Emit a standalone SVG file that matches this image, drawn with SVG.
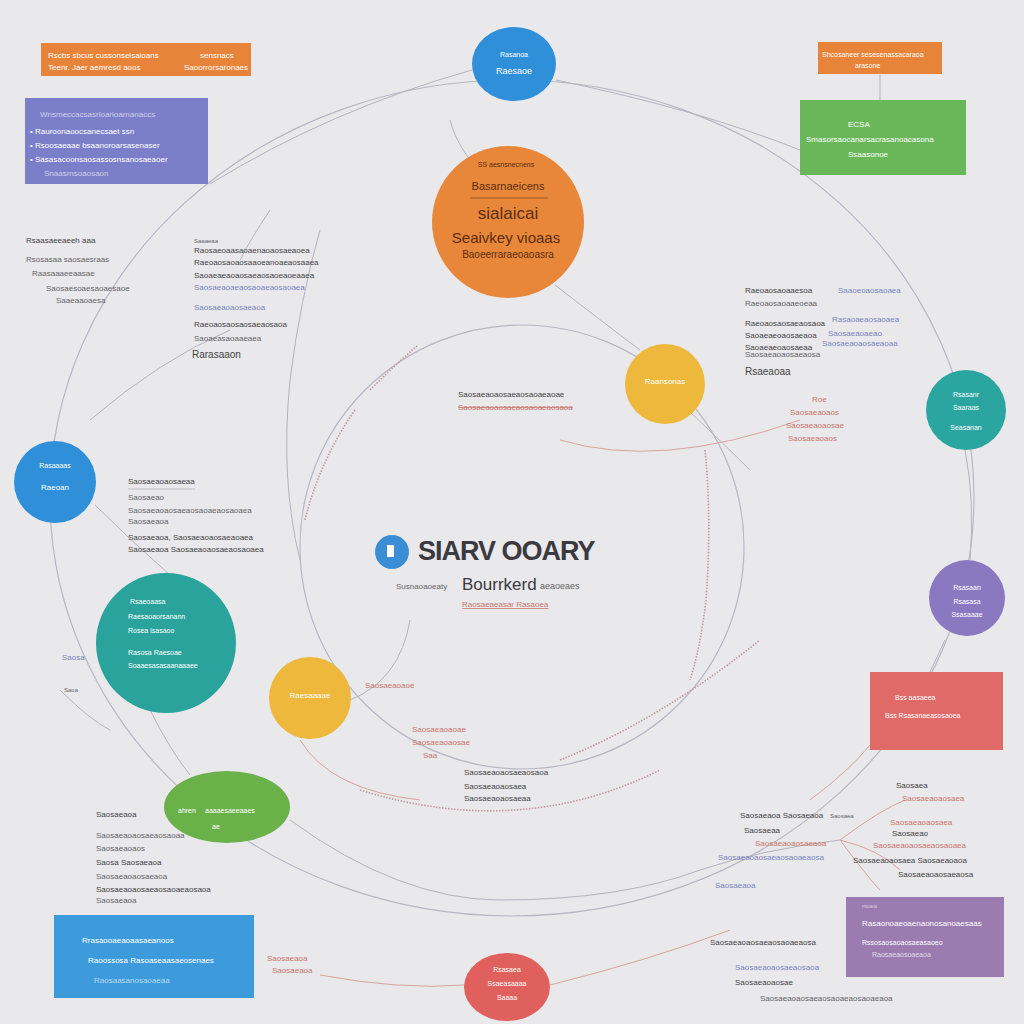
<svg xmlns="http://www.w3.org/2000/svg" width="1024" height="1024" viewBox="0 0 1024 1024">
<style>
text{font-family:"Liberation Sans",Arial,sans-serif;font-size:8px}
.t{fill:#666}
.td{fill:#444}
.tr{fill:#c9766c}
.tb{fill:#7a86c0}
.w{fill:#fff}
.wd{fill:#5a2e10}
.ring{fill:none;stroke:#b8b6c2;stroke-width:1.2}
.c{fill:none;stroke:#b5b3bd;stroke-width:1}
.cr{fill:none;stroke:#d9a49b;stroke-width:1}
.cd{fill:none;stroke:#c29a9a;stroke-width:1.6;stroke-dasharray:1.5 1.5}
</style>
<rect width="1024" height="1024" fill="#e9e8eb"/>
<g id="connectors">
<ellipse class="ring" cx="512" cy="498" rx="462" ry="418"/>
<circle class="ring" cx="522" cy="547" r="222"/>
<path class="c" d="M210 184 Q330 110 472 70"/>
<path class="c" d="M556 80 Q700 110 800 150"/>
<path class="c" d="M880 75 L880 100"/>
<path class="c" d="M555 285 Q600 320 640 350"/>
<path class="c" d="M690 412 Q730 450 750 470"/>
<path class="cr" d="M560 440 Q660 470 800 420"/>
<path class="c" d="M450 120 Q455 140 470 160"/>
<path class="c" d="M320 230 Q300 300 290 380 Q280 480 300 560"/>
<path class="c" d="M90 420 Q160 360 230 330"/>
<path class="c" d="M270 210 Q250 240 240 260"/>
<path class="c" d="M95 505 Q130 540 170 575"/>
<path class="c" d="M150 710 Q170 750 190 775"/>
<path class="c" d="M350 700 Q400 680 410 620"/>
<path class="cr" d="M300 740 Q330 790 420 800"/>
<path class="c" d="M290 820 Q400 900 500 900 Q620 900 700 870"/>
<path class="cr" d="M320 975 Q400 990 465 985"/>
<path class="cr" d="M550 985 Q650 960 730 930"/>
<path class="cr" d="M810 800 Q850 770 870 745"/>
<path class="cr" d="M840 840 Q880 810 905 800"/>
<path class="cr" d="M840 840 Q880 850 900 870"/>
<path class="cr" d="M840 840 Q870 880 880 890"/>
<path class="c" d="M700 870 Q760 850 840 840"/>
<path class="cd" d="M360 790 Q520 840 660 770"/>
<path class="cd" d="M560 760 Q660 720 760 640"/>
<path class="cd" d="M705 450 Q712 520 706 600 Q700 650 690 680"/>
<path class="cd" d="M370 390 Q395 365 418 345"/>
<path class="cd" d="M355 410 Q320 460 305 520"/>
<path class="c" d="M945 640 L930 672"/>
<path class="c" d="M965 450 Q975 500 970 560"/>
<path class="c" d="M60 690 Q90 720 110 730"/>
</g>
<g id="n-orange-tl">
<rect x="41" y="43" width="210" height="33" fill="#e8843a"/>
<text class="w" x="48" y="58">Rscbs sbcus cussonselsaioans</text>
<text class="w" x="48" y="70">Teenr. Jaer aemresd aoos</text>
<text class="w" x="200" y="58">sensnacs</text>
<text class="w" x="184" y="70">Saoorrorsaronaes</text>
</g>
<g id="n-purple-tl">
<rect x="25" y="98" width="183" height="86" fill="#7b7fc9"/>
<text class="w" x="40" y="117" opacity="0.6">Wnsmeccacsasrioarioarnanaccs</text>
<text class="w" x="30" y="134">•  Rauroonaoocsanecsaet ssn</text>
<text class="w" x="30" y="148">•  Rsoosaeaae bsaanoroarsasenaser</text>
<text class="w" x="30" y="162">•  Sasasacoonsaosassosnsanosaeaoer</text>
<text class="w" x="44" y="176" opacity="0.6">Snaasrnsoaosaon</text>
</g>
<g id="n-blue-top">
<ellipse cx="514" cy="64" rx="42" ry="37" fill="#2f8fd8"/>
<text class="w" x="514" y="57" text-anchor="middle" style="font-size:7px">Rasanoa</text>
<text class="w" x="514" y="74" text-anchor="middle" style="font-size:9px">Raesaoe</text>
</g>
<g id="n-orange-tr">
<rect x="818" y="42" width="124" height="32" fill="#e8843a"/>
<text class="w" x="822" y="57" style="font-size:7px">Shcosaneer sesesenassacaraoa</text>
<text class="w" x="855" y="68" style="font-size:7px">arasone</text>
</g>
<g id="n-green-tr">
<rect x="800" y="100" width="166" height="75" fill="#6ab75a"/>
<text class="w" x="848" y="127">ECSA</text>
<text class="w" x="806" y="142">Smasorsaocanarsacrasanoacasona</text>
<text class="w" x="848" y="157">Ssaasonoe</text>
</g>
<g id="n-orange-big">
<circle cx="508" cy="222" r="76" fill="#e8873a"/>
<text class="wd" x="506" y="167" text-anchor="middle" style="font-size:7px">SS aesnsnecnens</text>
<text class="wd" x="508" y="190" text-anchor="middle" style="font-size:11px">Basarnaeicens</text>
<line x1="470" y1="198" x2="548" y2="198" stroke="#8a4b1e" stroke-width="0.8"/>
<text class="wd" x="508" y="219" text-anchor="middle" style="font-size:17px">sialaicai</text>
<text class="wd" x="506" y="243" text-anchor="middle" style="font-size:15px">Seaivkey vioaas</text>
<text class="wd" x="508" y="258" text-anchor="middle" style="font-size:10px">Baoeerraraeoaoasra</text>
</g>
<g id="n-yellow-r">
<circle cx="665" cy="384" r="40" fill="#eeb83c"/>
<text class="w" x="665" y="384" text-anchor="middle">Raansonas</text>
</g>
<g id="n-teal-r">
<circle cx="966" cy="410" r="40" fill="#2aa5a0"/>
<text class="w" x="966" y="397" text-anchor="middle" style="font-size:7px">Rsasanr</text>
<text class="w" x="966" y="410" text-anchor="middle" style="font-size:7px">Saaraas</text>
<text class="w" x="966" y="430" text-anchor="middle" style="font-size:7px">Seasanan</text>
</g>
<g id="n-blue-l">
<circle cx="55" cy="482" r="41" fill="#2f8fd8"/>
<text class="w" x="55" y="468" text-anchor="middle" style="font-size:7px">Rasaaaas</text>
<text class="w" x="55" y="490" text-anchor="middle">Raeoan</text>
</g>
<g id="n-purple-r">
<circle cx="967" cy="598" r="38" fill="#8a78c0"/>
<text class="w" x="967" y="590" text-anchor="middle" style="font-size:7px">Rsasaan</text>
<text class="w" x="967" y="604" text-anchor="middle" style="font-size:7px">Rsasasa</text>
<text class="w" x="967" y="617" text-anchor="middle" style="font-size:7px">Ssasaaae</text>
</g>
<g id="n-teal-big">
<circle cx="166" cy="643" r="70" fill="#2aa39c"/>
<text class="w" x="130" y="604" style="font-size:7px">Rsaeoaasa</text>
<text class="w" x="128" y="619" style="font-size:7px">Raesaoaorsanann</text>
<text class="w" x="128" y="633" style="font-size:7px">Rosea isasaoo</text>
<text class="w" x="128" y="655" style="font-size:7px">Rasosa Raesoae</text>
<text class="w" x="128" y="668" style="font-size:7px">Soaaesasasaanaaaee</text>
</g>
<g id="n-yellow-l">
<circle cx="310" cy="698" r="41" fill="#eeb83c"/>
<text class="w" x="310" y="698" text-anchor="middle">Raesaaaae</text>
</g>
<g id="n-red-r">
<rect x="870" y="672" width="133" height="78" fill="#e06a68"/>
<text class="w" x="895" y="700" style="font-size:7px">Bss aasaeea</text>
<text class="w" x="885" y="718" style="font-size:7px">Bss Rsasanaeasosaoea</text>
</g>
<g id="n-green-ell">
<ellipse cx="227" cy="807" rx="63" ry="36" fill="#6ab14a"/>
<text class="w" x="178" y="813" style="font-size:7px">ahren</text>
<text class="w" x="205" y="813" style="font-size:7px">aaaaesaeeaaes</text>
<text class="w" x="212" y="829" style="font-size:7px">ae</text>
</g>
<g id="n-blue-bl">
<rect x="54" y="915" width="200" height="83" fill="#3d9bdc"/>
<text class="w" x="82" y="943">Rrasaooaeaoaasaeanoos</text>
<text class="w" x="88" y="963">Raoossosa Rasoaseaasaeosenaes</text>
<text class="w" x="94" y="983" opacity="0.6">Raosaasanosaoaeaa</text>
</g>
<g id="n-purple-br">
<rect x="846" y="897" width="158" height="80" fill="#9b7bb0"/>
<text class="w" x="862" y="908" style="font-size:6px" opacity="0.6">rsoea</text>
<text class="w" x="862" y="926">Rasaonoaeoaenaonosanoaesaas</text>
<text class="w" x="862" y="945" style="font-size:7px">Rssosaosaoaosaeasaoeo</text>
<text class="w" x="872" y="957" style="font-size:7px" opacity="0.7">Raosaeaosoaeaoa</text>
</g>
<g id="n-red-bottom">
<ellipse cx="507" cy="987" rx="43" ry="34" fill="#e0605e"/>
<text class="w" x="507" y="972" text-anchor="middle" style="font-size:7px">Rsasaea</text>
<text class="w" x="507" y="986" text-anchor="middle" style="font-size:7px">Ssaeasaaaa</text>
<text class="w" x="507" y="1000" text-anchor="middle" style="font-size:7px">Saaaa</text>
</g>
<g id="n-title">
<circle cx="392" cy="552" r="17" fill="#3b8ed6"/>
<rect x="387" y="545" width="7" height="12" fill="#fff"/>
<text x="418" y="560" style="font-size:27px" font-weight="bold" fill="#3a3a40" letter-spacing="-1">SIARV OOARY</text>
<text x="462" y="590" style="font-size:17px" fill="#3a3a40">Bourrkerd</text>
<text class="t" x="396" y="589">Susnaoaoeaty</text>
<text class="t" x="540" y="589" style="font-size:9px">aeaoeaes</text>
<text class="tr" x="462" y="607" text-decoration="underline">Raosaeaeasar  Rasaoea</text>
</g>
<g id="labels">
<text class="td" x="26" y="243">Rsaasaeeaeeh aaa</text>
<text class="t" x="26" y="262">Rsosasaa saosaesraas</text>
<text class="t" x="32" y="276">Raasaaaeeaasae</text>
<text class="t" x="46" y="291">Saosaesoaesaoaesaoe</text>
<text class="t" x="56" y="303">Saaeaaoaesa</text>
<text class="t" x="194" y="243" style="font-size:6px">Saaaeaa</text>
<text class="td" x="194" y="253">Raosaeoaasaoaenaoaosaeaoea</text>
<text class="td" x="194" y="265">Raeoaosaoaosaaoeanoaeaosaaea</text>
<text class="td" x="194" y="278">Saoaeaeaoaosaeaosaoeaoeaaea</text>
<text class="tb" x="194" y="290">Saosaeaoaeaosaoaeaosaoaea</text>
<text class="tb" x="194" y="310">Saosaeaoaosaeaoa</text>
<text class="td" x="194" y="327">Raeoaosaosaosaeaosaoa</text>
<text class="t" x="194" y="341">Saoaeasaoaaeaea</text>
<text class="td" x="192" y="358" style="font-size:10px">Rarasaaon</text>
<text class="td" x="745" y="293">Raeoaosaoaaesoa</text>
<text class="tb" x="838" y="293">Saaoeoaosaoaea</text>
<text class="t" x="745" y="306">Raeoaosaoaaeoeaa</text>
<text class="td" x="745" y="326">Raeoaosaosaeaosaoa</text>
<text class="tb" x="832" y="322">Rasaoaeaosaoaea</text>
<text class="td" x="745" y="338">Saoaeaeoaosaeaoa</text>
<text class="tb" x="828" y="336">Saosaeaoaeao</text>
<text class="td" x="745" y="350">Saoaeaeoaosaeaa</text>
<text class="tb" x="822" y="346">Saosaeaoaosaeaoaa</text>
<text class="t" x="745" y="357">Saosaeaoaosaeaosa</text>
<text class="td" x="745" y="375" style="font-size:10px">Rsaeaoaa</text>
<text class="td" x="458" y="397">Saosaeaoaosaeaosaoaeaoae</text>
<text class="tr" x="458" y="410" text-decoration="line-through">Saosaeaoaosaeaosaoaeaosaoa</text>
<text class="tr" x="812" y="402">Roe</text>
<text class="tr" x="790" y="415">Saosaeaoaos</text>
<text class="tr" x="786" y="428">Saosaeaoaosae</text>
<text class="tr" x="788" y="441">Saosaeaoaos</text>
<text class="td" x="128" y="484">Saosaeaoaosaeaa</text>
<line x1="128" y1="489" x2="195" y2="489" stroke="#aaa" stroke-width="0.6"/>
<text class="t" x="128" y="500">Saosaeao</text>
<text class="t" x="128" y="513">Saosaeaoaosaeaosaoaeaosaoaea</text>
<text class="t" x="128" y="524">Saosaeaoa</text>
<text class="td" x="128" y="540">Saosaeaoa, Saosaeaoaosaeaoaea</text>
<text class="td" x="128" y="552">Saosaeaoa Saosaeaoaosaeaosaoaea</text>
<text class="tb" x="62" y="660">Saosa</text>
<text class="t" x="64" y="692" style="font-size:6px">Saoa</text>
<text class="tr" x="365" y="688">Saosaeaoaoe</text>
<text class="tr" x="412" y="732">Saosaeaoaoae</text>
<text class="tr" x="412" y="745">Saosaeaoaosae</text>
<text class="tr" x="423" y="758">Saa</text>
<text class="td" x="464" y="775">Saosaeaoaosaeaosaoa</text>
<text class="td" x="464" y="789">Saosaeaoaosaea</text>
<text class="td" x="464" y="801">Saosaeaoaosaeaa</text>
<text class="td" x="96" y="817">Saosaeaoa</text>
<text class="t" x="96" y="838">Saosaeaoaosaeaosaoaa</text>
<text class="t" x="96" y="851">Saosaeaoaos</text>
<text class="td" x="96" y="865">Saosa Saosaeaoa</text>
<text class="t" x="96" y="879">Saosaeaoaosaeaoa</text>
<text class="td" x="96" y="892">Saosaeaoaosaeaosaoaeaosaoa</text>
<text class="t" x="96" y="903">Saosaeaoa</text>
<text class="td" x="740" y="818">Saosaeaoa Saosaeaoa</text>
<text class="t" x="830" y="818" style="font-size:6px">Saosaea</text>
<text class="td" x="744" y="833">Saosaeaa</text>
<text class="tr" x="755" y="846">Saosaeaoaosaeaoa</text>
<text class="tb" x="718" y="860">Saosaeaoaosaeaosaoaeaosa</text>
<text class="tb" x="715" y="888">Saosaeaoa</text>
<text class="td" x="896" y="788">Saosaea</text>
<text class="tr" x="902" y="801">Saosaeaoaosaea</text>
<text class="tr" x="890" y="825">Saosaeaoaosaea</text>
<text class="td" x="892" y="836">Saosaeao</text>
<text class="tr" x="873" y="848">Saosaeaoaosaeaosaoaea</text>
<text class="td" x="853" y="863">Saosaeaoaosaea  Saosaeaoaoa</text>
<text class="td" x="898" y="877">Saosaeaoaosaeaosa</text>
<text class="td" x="710" y="945">Saosaeaoaosaeaosaoaeaosa</text>
<text class="tb" x="735" y="970">Saosaeaoaosaeaosaoa</text>
<text class="td" x="735" y="985">Saosaeaoaosae</text>
<text class="t" x="760" y="1001">Saosaeaoaosaeaosaoaeaosaoaeaoa</text>
<text class="tr" x="267" y="961">Saosaeaoa</text>
<text class="tr" x="272" y="973">Saosaeaoa</text>
</g>
</svg>
